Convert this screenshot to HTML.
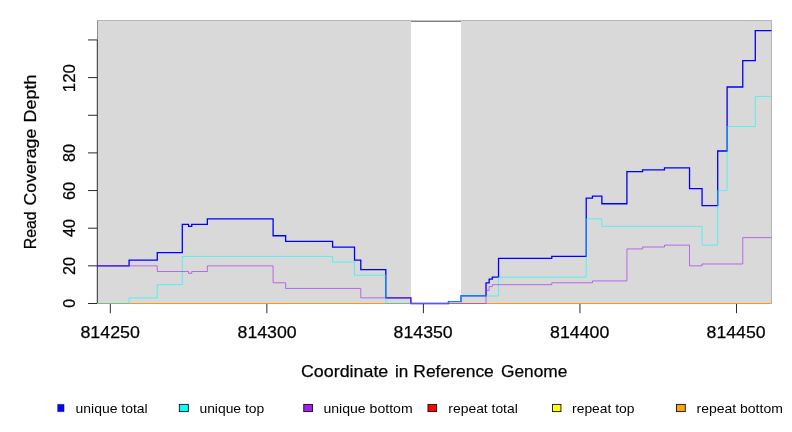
<!DOCTYPE html>
<html><head><meta charset="utf-8"><title>Read Coverage Depth</title>
<style>
html,body{margin:0;padding:0;background:#fff;}
body{width:792px;height:432px;overflow:hidden;font-family:"Liberation Sans",sans-serif;}
svg{display:block;}
text{font-family:"Liberation Sans",sans-serif;fill:#000;}
</style></head><body>
<svg width="792" height="432" viewBox="0 0 792 432">
<rect x="0" y="0" width="792" height="432" fill="#ffffff"/>
<rect x="98" y="21" width="313" height="282.5" fill="#d9d9d9"/>
<rect x="461" y="21" width="311" height="282.5" fill="#d9d9d9"/>
<rect x="97.4" y="20" width="674.6" height="1" fill="#b6b6b6"/>
<rect x="97" y="20.4" width="1" height="20" fill="#8e8e8e"/>
<rect x="411" y="20" width="50" height="1" fill="#c4c4c4"/>
<rect x="411" y="21" width="50" height="1" fill="#808080"/>
<rect x="771" y="21" width="1" height="282.5" fill="#b4b4b4"/>
<g stroke="#2a2a2a" stroke-width="1" fill="none">
<path d="M97.3 39.95V303.5"/>
<path d="M88 303.5H97.3"/>
<path d="M88 265.85H97.3"/>
<path d="M88 228.2H97.3"/>
<path d="M88 190.55H97.3"/>
<path d="M88 152.9H97.3"/>
<path d="M88 115.25H97.3"/>
<path d="M88 77.6H97.3"/>
<path d="M88 39.95H97.3"/>
<path d="M110.3 303.5V313.2"/>
<path d="M266.85 303.5V313.2"/>
<path d="M423.4 303.5V313.2"/>
<path d="M579.95 303.5V313.2"/>
<path d="M736.5 303.5V313.2"/>
</g>
<g fill="none" stroke-linejoin="miter" stroke-linecap="butt">
<path d="M97.3 303.5H771.5" stroke="#ff9910" stroke-width="1"/>
<path d="M97.3 265.85H129.09V260.2H157.26V252.67H182.31V224.44H188.57V226.32H191.71V224.44H207.36V218.79H273.11V235.73H285.64V241.38H332.6V247.03H354.52V260.2H360.78V269.62H385.83V297.85H410.88V303.5H448.45V301.62H460.97V295.97H486.02V282.79H489.15V279.03H492.28V277.14H498.54V258.32H551.77V256.44H586.21V198.08H592.47V196.2H601.87V203.73H626.91V171.72H642.57V169.84H664.49V167.96H689.53V188.67H702.06V205.61H717.71V151.02H727.11V87.01H742.76V60.66H755.29V30.54H771.5" stroke="#0000ff" stroke-width="1.3"/>
<path d="M97.3 303.5H129.09V297.85H157.26V284.68H182.31V256.44H332.6V262.08H354.52V275.26H385.83V303.5H448.45V301.62H460.97V295.97H498.54V277.14H586.21V218.79H601.87V226.32H702.06V245.14H717.71V190.55H727.11V126.54H755.29V96.42H771.5" stroke="#00ffff" stroke-opacity="0.6" stroke-width="1"/>
<path d="M97.3 265.85H157.26V271.5H188.57V273.38H191.71V271.5H207.36V265.85H273.11V282.79H285.64V288.44H360.78V297.85H410.88V303.5H486.02V290.32H489.15V286.56H492.28V284.68H551.77V282.79H592.47V280.91H626.91V248.91H642.57V247.03H664.49V245.14H689.53V265.85H702.06V263.97H742.76V237.61H771.5" stroke="#a020f0" stroke-opacity="0.6" stroke-width="1"/>
<path d="M97.3 303.5H128.59M386.33 303.5H410.18" stroke="#66c67a" stroke-width="1"/>
<path d="M449.15 303.5H485.52" stroke="#cf587c" stroke-width="1"/>
</g>
<g opacity="0.999">
<text id="x814250" x="80.45" y="338.1" font-size="17.3" textLength="59.49" lengthAdjust="spacingAndGlyphs" stroke="#000" stroke-width="0.25">814250</text>
<text id="x814300" x="237.60" y="338.1" font-size="17.3" textLength="59.06" lengthAdjust="spacingAndGlyphs" stroke="#000" stroke-width="0.25">814300</text>
<text id="x814350" x="393.61" y="338.1" font-size="17.3" textLength="59.07" lengthAdjust="spacingAndGlyphs" stroke="#000" stroke-width="0.25">814350</text>
<text id="x814400" x="550.12" y="338.1" font-size="17.3" textLength="59.17" lengthAdjust="spacingAndGlyphs" stroke="#000" stroke-width="0.25">814400</text>
<text id="x814450" x="706.56" y="338.1" font-size="17.3" textLength="59.01" lengthAdjust="spacingAndGlyphs" stroke="#000" stroke-width="0.25">814450</text>
<text id="y0" transform="translate(75.3 307.64) rotate(-90)" font-size="17.3" textLength="8.81" lengthAdjust="spacingAndGlyphs" stroke="#000" stroke-width="0.25">0</text>
<text id="y20" transform="translate(75.3 274.97) rotate(-90)" font-size="17.3" textLength="18.00" lengthAdjust="spacingAndGlyphs" stroke="#000" stroke-width="0.25">20</text>
<text id="y40" transform="translate(75.3 236.97) rotate(-90)" font-size="17.3" textLength="17.83" lengthAdjust="spacingAndGlyphs" stroke="#000" stroke-width="0.25">40</text>
<text id="y60" transform="translate(75.3 199.99) rotate(-90)" font-size="17.3" textLength="18.18" lengthAdjust="spacingAndGlyphs" stroke="#000" stroke-width="0.25">60</text>
<text id="y80" transform="translate(75.3 162.07) rotate(-90)" font-size="17.3" textLength="18.07" lengthAdjust="spacingAndGlyphs" stroke="#000" stroke-width="0.25">80</text>
<text id="y120" transform="translate(75.3 92.26) rotate(-90)" font-size="17.3" textLength="28.23" lengthAdjust="spacingAndGlyphs" stroke="#000" stroke-width="0.25">120</text>
<text id="t1" x="300.99" y="376.8" font-size="17.3" textLength="87.31" lengthAdjust="spacingAndGlyphs" stroke="#000" stroke-width="0.25">Coordinate</text>
<text id="t2" x="394.96" y="376.8" font-size="17.3" textLength="13.27" lengthAdjust="spacingAndGlyphs" stroke="#000" stroke-width="0.25">in</text>
<text id="t3" x="413.33" y="376.8" font-size="17.3" textLength="80.47" lengthAdjust="spacingAndGlyphs" stroke="#000" stroke-width="0.25">Reference</text>
<text id="t4" x="500.98" y="376.8" font-size="17.3" textLength="66.31" lengthAdjust="spacingAndGlyphs" stroke="#000" stroke-width="0.25">Genome</text>
<text id="l1" transform="translate(36.1 249.25) rotate(-90)" font-size="17.3" textLength="37.96" lengthAdjust="spacingAndGlyphs" stroke="#000" stroke-width="0.25">Read</text>
<text id="l2" transform="translate(36.1 205.46) rotate(-90)" font-size="17.3" textLength="76.76" lengthAdjust="spacingAndGlyphs" stroke="#000" stroke-width="0.25">Coverage</text>
<text id="l3" transform="translate(36.1 122.39) rotate(-90)" font-size="17.3" textLength="47.91" lengthAdjust="spacingAndGlyphs" stroke="#000" stroke-width="0.25">Depth</text>
<text id="g0" x="75.55" y="412.6" font-size="13" textLength="72.16" lengthAdjust="spacingAndGlyphs" >unique total</text>
<text id="g1" x="199.43" y="412.6" font-size="13" textLength="64.82" lengthAdjust="spacingAndGlyphs" >unique top</text>
<text id="g2" x="323.44" y="412.6" font-size="13" textLength="89.19" lengthAdjust="spacingAndGlyphs" >unique bottom</text>
<text id="g3" x="448.39" y="412.6" font-size="13" textLength="69.39" lengthAdjust="spacingAndGlyphs" >repeat total</text>
<text id="g4" x="572.09" y="412.6" font-size="13" textLength="62.31" lengthAdjust="spacingAndGlyphs" >repeat top</text>
<text id="g5" x="696.52" y="412.6" font-size="13" textLength="86.30" lengthAdjust="spacingAndGlyphs" >repeat bottom</text>
<rect x="57.4" y="404.4" width="6.6" height="7.2" fill="#0000ff"/>
<path d="M57.4 404.4H64V411.6H57.4" fill="none" stroke="#222" stroke-width="0.6"/>
<rect x="179.35" y="404.4" width="9.00" height="7.2" fill="#00ffff" stroke="#111" stroke-width="0.9"/>
<rect x="303.75" y="404.4" width="8.70" height="7.2" fill="#a020f0" stroke="#111" stroke-width="0.9"/>
<rect x="427.95" y="404.4" width="8.70" height="7.2" fill="#ff0000" stroke="#111" stroke-width="0.9"/>
<rect x="552.55" y="404.4" width="8.40" height="7.2" fill="#ffff00" stroke="#111" stroke-width="0.9"/>
<rect x="676.55" y="404.4" width="8.70" height="7.2" fill="#ffa500" stroke="#111" stroke-width="0.9"/>
</g>
</svg>
</body></html>
